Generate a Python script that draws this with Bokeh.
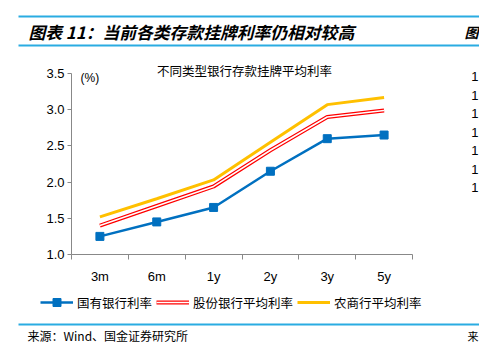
from bokeh.plotting import figure
from bokeh.models import (Range1d, FixedTicker, Legend, LegendItem, Label,
                          BoxAnnotation, PrintfTickFormatter, LinearAxis)
from bokeh.embed import file_html
from bokeh.resources import INLINE

# ---- data ----
categories = ["3m", "6m", "1y", "2y", "3y", "5y"]
state_bank = [1.25, 1.45, 1.65, 2.15, 2.60, 2.65]      # 国有银行利率
joint_stock = [1.40, 1.67, 1.94, 2.44, 2.90, 2.99]     # 股份银行平均利率
rural = [1.52, 1.77, 2.03, 2.55, 3.07, 3.17]           # 农商行平均利率
y_ticks = [1.0, 1.5, 2.0, 2.5, 3.0, 3.5]
series_names = ["国有银行利率", "股份银行平均利率", "农商行平均利率"]

xs = [i + 0.5 for i in range(len(categories))]
boundaries = list(range(len(categories) + 1))

CJK = "Noto Sans CJK SC"
LAT = "Liberation Sans"
BLUE = "#0070C0"
RED = "#FF0000"
YEL = "#FFC000"
RULE = "#2AACE2"
AX = "#888888"

W, H = 479, 344
# plot-area placement on the canvas (px)
PX0, PX1 = 71, 412      # x = 0 .. 6
PY_LO, PY_HI = 254, 73  # y = 1.0 .. 3.5 (from top)
kx = (PX1 - PX0) / len(categories)
ky = (PY_LO - PY_HI) / (y_ticks[-1] - y_ticks[0])
x_range = Range1d(-PX0 / kx, (W - PX0) / kx)
y_range = Range1d(y_ticks[0] - (H - PY_LO) / ky, y_ticks[-1] + PY_HI / ky)

p = figure(width=W, height=H, output_backend="svg", toolbar_location=None,
           x_range=x_range, y_range=y_range, x_axis_location=None,
           y_axis_location=None, min_border=0)
p.outline_line_color = None
p.grid.visible = False
p.background_fill_color = "white"
p.border_fill_color = "white"

# x axis: ticks at boundaries (minor), labels at centres
xaxis = LinearAxis(fixed_location=y_ticks[0], bounds=(0, len(categories)))
xaxis.ticker = FixedTicker(ticks=xs, minor_ticks=boundaries)
xaxis.major_label_overrides = {x: c for x, c in zip(xs, categories)}
xaxis.major_tick_out = 0
xaxis.major_tick_in = 0
xaxis.minor_tick_out = 5
xaxis.minor_tick_in = 0
xaxis.minor_tick_line_color = AX
xaxis.axis_line_color = AX
xaxis.major_label_standoff = 9
xaxis.major_label_text_font = LAT
xaxis.major_label_text_font_size = "13px"
xaxis.major_label_text_color = "black"
p.add_layout(xaxis, "below")

yaxis = LinearAxis(fixed_location=0, bounds=(y_ticks[0], y_ticks[-1]))
yaxis.ticker = FixedTicker(ticks=y_ticks, minor_ticks=[])
yaxis.formatter = PrintfTickFormatter(format="%.1f")
yaxis.major_tick_out = 4
yaxis.major_tick_in = 0
yaxis.minor_tick_line_color = None
yaxis.major_tick_line_color = AX
yaxis.axis_line_color = AX
yaxis.major_label_standoff = 3
yaxis.major_label_text_font = LAT
yaxis.major_label_text_font_size = "13px"
yaxis.major_label_text_color = "black"
p.add_layout(yaxis, "left")

# ---- series ----
r_y = p.line(xs, rural, line_color=YEL, line_width=3)
r_r1 = p.line(xs, joint_stock, line_color=RED, line_width=4)
r_r2 = p.line(xs, joint_stock, line_color="white", line_width=1.6)
r_b = p.line(xs, state_bank, line_color=BLUE, line_width=2.5)
r_bm = p.scatter(xs, state_bank, marker="square", size=8, fill_color=BLUE,
                 line_color=BLUE)


def sy(cy):
    return H - cy


legend = Legend(items=[
    LegendItem(label=series_names[0], renderers=[r_b, r_bm]),
    LegendItem(label=series_names[1], renderers=[r_r1, r_r2]),
    LegendItem(label=series_names[2], renderers=[r_y]),
], orientation="horizontal", location=(40, sy(312)), glyph_width=33,
    glyph_height=20, label_standoff=4, spacing=4, padding=0, margin=0,
    border_line_color=None, background_fill_alpha=0,
    label_text_font=CJK, label_text_font_size="12.5px",
    label_text_color="black")
p.add_layout(legend, "center")


# ---- texts ----
def label(cx, cy, text, font=CJK, size="12px", align="left", style="normal",
          color="black"):
    p.add_layout(Label(x=cx, y=sy(cy), x_units="screen", y_units="screen",
                       text=text, text_font=font, text_font_size=size,
                       text_align=align, text_baseline="middle",
                       text_font_style=style, text_color=color))


label(28, 31, "图表 11：当前各类存款挂牌利率仍相对较高", size="16.8px",
      style="bold italic")
label(478, 31, "图", size="14px", style="bold italic", align="right")
label(244, 70, "不同类型银行存款挂牌平均利率", size="12.5px", align="center")
label(80, 77, "(%)", font=LAT, size="12px")
label(27, 335, "来源：Wind、国金证券研究所", size="12px")
label(478, 335, "来", size="11px", align="right")
for i in range(7):
    label(478, 76 + 18.5 * i, "1", font=LAT, size="13px", align="right")

# ---- blue rules ----
for cy in (16, 45, 324):
    p.add_layout(BoxAnnotation(left=18, right=482, top=sy(cy - 1),
                               bottom=sy(cy + 1), left_units="screen",
                               right_units="screen", top_units="screen",
                               bottom_units="screen", fill_color=RULE,
                               fill_alpha=1, line_color=None))

open("out.html", "w").write(file_html(p, INLINE))
